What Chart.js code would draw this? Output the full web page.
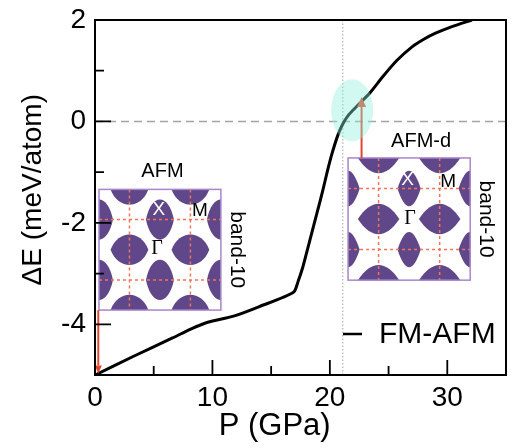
<!DOCTYPE html>
<html>
<head>
<meta charset="utf-8">
<script src="https://cdn.jsdelivr.net/npm/chart.js@4.4.1/dist/chart.umd.min.js"></script>
<style>
  html, body { margin: 0; padding: 0; background: #fff; }
</style>
</head>
<body>
<canvas id="chart" width="518" height="448"></canvas>
<script>
// ---- values ----
const pressure = [0.1, 3.2, 6.6, 8.2, 9.6, 11.8, 14.0, 16.9, 17.3, 17.7, 18.3, 18.9, 19.4, 19.8, 20.2, 20.7, 21.1, 21.6, 22.3, 23.4, 24.5, 25.7, 27.0, 28.0, 29.0, 30.4, 32.1];
const deltaE = [-4.99, -4.64, -4.27, -4.09, -3.96, -3.84, -3.65, -3.37, -3.15, -2.87, -2.34, -1.81, -1.36, -0.97, -0.62, -0.26, -0.05, 0.13, 0.30, 0.56, 0.88, 1.20, 1.47, 1.62, 1.74, 1.87, 2.00];

const seriesLabel = "FM-AFM";
const transitionP = 21.1;          // dotted vertical line
const pRange = [0, 35];
const eRange = [-5, 2];
const pLabelTicks = [0, 10, 20, 30];
const eLabelTicks = [-4, -2, 0, 2];

// insets (corners in data units) and arrows pointing at the curve
const insetNames = ["AFM", "AFM-d"];
const insetP = [[0.34, 10.72], [21.55, 31.95]];
const insetE = [[-1.34, -3.72], [-0.72, -3.13]];
const arrowP = [0.28, 22.7];
const arrowFromE = [-3.72, -0.72];
const arrowToE = [-4.97, 0.48];
const circleP = 21.9, circleE = 0.22;

const FONT = "'Liberation Sans', Arial, sans-serif";
const PURPLE = "#604789";
const RED = "#e2462f";

// lens shapes inside an inset: [ux, uy] in half-inset units
const hLens = [[0.5, 0], [1.5, 0], [0.5, 1], [1.5, 1], [0.5, 2], [1.5, 2]];
const vLens = [[0, 0.5], [0, 1.5], [1, 0.5], [1, 1.5], [2, 0.5], [2, 1.5]];
const lensStyle = [
  { hA: 0.155, hB: 0.125, vA: 0.115, vB: 0.165, k: 0.6 },
  { hA: 0.17, hB: 0.125, vA: 0.095, vB: 0.145, k: 0.35 },
];
const labelOffs = [
  { X: [-1, -10], M: [9.5, -9], G: [-3, -1] },
  { X: [-1.5, -8.5], M: [8.5, -7], G: [1, 0] },
];
const titleOffs = [[2.5, -17.5], [12, -16.5]];

function lens(ctx, cx, cy, a, b, k) {
  ctx.beginPath();
  ctx.moveTo(cx - a, cy);
  ctx.bezierCurveTo(cx - a * k, cy - b * 1.333, cx + a * k, cy - b * 1.333, cx + a, cy);
  ctx.bezierCurveTo(cx + a * k, cy + b * 1.333, cx - a * k, cy + b * 1.333, cx - a, cy);
  ctx.closePath();
  ctx.fill();
}

function drawInset(ctx, xs, ys, i) {
  const x0 = xs.getPixelForValue(insetP[i][0]), x1 = xs.getPixelForValue(insetP[i][1]);
  const y0 = ys.getPixelForValue(insetE[i][0]), y1 = ys.getPixelForValue(insetE[i][1]);
  const w = x1 - x0, h = y1 - y0;
  const st = lensStyle[i];

  ctx.save();
  ctx.beginPath();
  ctx.rect(x0, y0, w, h);
  ctx.fillStyle = "#fff";
  ctx.fill();
  ctx.clip();
  ctx.fillStyle = PURPLE;
  hLens.forEach(([u, v]) => lens(ctx, x0 + u * w / 2, y0 + v * h / 2, st.hA * w, st.hB * w, st.k));
  vLens.forEach(([u, v]) => lens(ctx, x0 + u * w / 2, y0 + v * h / 2, st.vA * w, st.vB * w, st.k));

  // dashed zone lines
  ctx.strokeStyle = "#f2735a";
  ctx.lineWidth = 1.5;
  ctx.setLineDash([3, 3]);
  [0.25, 0.75].forEach((f) => {
    ctx.beginPath();
    ctx.moveTo(x0 + f * w, y0); ctx.lineTo(x0 + f * w, y1);
    ctx.moveTo(x0, y0 + f * h); ctx.lineTo(x1, y0 + f * h);
    ctx.stroke();
  });
  ctx.restore();

  ctx.save();
  ctx.strokeStyle = "#a886cc";
  ctx.lineWidth = 1.5;
  ctx.strokeRect(x0, y0, w, h);

  const cx = x0 + w / 2, cy = y0 + h / 2;
  const lo = labelOffs[i];
  ctx.textAlign = "center";
  ctx.textBaseline = "middle";
  ctx.font = "19px " + FONT;
  ctx.fillStyle = "#fff";
  ctx.fillText("X", cx + lo.X[0], y0 + h / 4 + lo.X[1]);
  ctx.fillStyle = "#000";
  ctx.fillText("M", x0 + 0.75 * w + lo.M[0], y0 + h / 4 + lo.M[1]);
  ctx.font = "20px 'Liberation Serif', 'Times New Roman', serif";
  ctx.fillText("\u0393", cx + lo.G[0], cy + lo.G[1]);

  ctx.font = "20px " + FONT;
  ctx.fillText(insetNames[i], cx + titleOffs[i][0], y0 + titleOffs[i][1]);

  ctx.translate(x1 + 16, cy);
  ctx.rotate(Math.PI / 2);
  ctx.font = "21px " + FONT;
  ctx.fillText("band-10", 0, 0);
  ctx.restore();
}

function arrow(ctx, x, yFrom, yTo, headLen, headW) {
  const dir = yTo > yFrom ? 1 : -1;
  ctx.save();
  ctx.strokeStyle = RED;
  ctx.fillStyle = RED;
  ctx.lineWidth = 2;
  ctx.beginPath();
  ctx.moveTo(x, yFrom);
  ctx.lineTo(x, yTo - dir * headLen);
  ctx.stroke();
  ctx.beginPath();
  ctx.moveTo(x, yTo);
  ctx.lineTo(x - headW, yTo - dir * headLen);
  ctx.lineTo(x + headW, yTo - dir * headLen);
  ctx.closePath();
  ctx.fill();
  ctx.restore();
}

const decor = {
  id: "decor",
  afterDatasetsDraw(chart) {
    const { ctx, chartArea: a, scales } = chart;
    const xs = scales.x, ys = scales.y;

    insetNames.forEach((_, i) => drawInset(ctx, xs, ys, i));

    arrow(ctx, xs.getPixelForValue(arrowP[0]), ys.getPixelForValue(arrowFromE[0]), ys.getPixelForValue(arrowToE[0]), 8, 3.5);
    arrow(ctx, xs.getPixelForValue(arrowP[1]), ys.getPixelForValue(arrowFromE[1]), ys.getPixelForValue(arrowToE[1]), 10, 4.5);

    // highlighted crossing
    ctx.save();
    ctx.fillStyle = "rgba(140, 240, 220, 0.4)";
    ctx.beginPath();
    ctx.ellipse(xs.getPixelForValue(circleP), ys.getPixelForValue(circleE), 21, 31, 0, 0, Math.PI * 2);
    ctx.fill();
    ctx.restore();

    // frame + inward ticks
    ctx.save();
    ctx.strokeStyle = "#000";
    ctx.lineWidth = 2;
    ctx.strokeRect(a.left, a.top, a.right - a.left, a.bottom - a.top);
    ctx.lineWidth = 1.8;
    ctx.beginPath();
    xs.ticks.forEach((t) => {
      const px = xs.getPixelForValue(t.value);
      const len = pLabelTicks.includes(t.value) ? 15 : 9;
      ctx.moveTo(px, a.bottom);
      ctx.lineTo(px, a.bottom - len);
    });
    ys.ticks.forEach((t) => {
      const py = ys.getPixelForValue(t.value);
      const len = eLabelTicks.includes(t.value) ? 16 : 9;
      ctx.moveTo(a.left, py);
      ctx.lineTo(a.left + len, py);
    });
    ctx.stroke();

    // legend entry
    const ly = a.bottom - 41;
    ctx.lineWidth = 2.5;
    ctx.beginPath();
    ctx.moveTo(a.right - 163, ly);
    ctx.lineTo(a.right - 144, ly);
    ctx.stroke();
    ctx.fillStyle = "#000";
    ctx.font = "30px " + FONT;
    ctx.textAlign = "left";
    ctx.textBaseline = "middle";
    ctx.fillText(chart.data.datasets[0].label, a.right - 127, ly + 1);
    ctx.restore();
  },
};

new Chart(document.getElementById("chart"), {
  type: "scatter",
  data: {
    datasets: [
      {
        label: seriesLabel,
        data: pressure.map((p, i) => ({ x: p, y: deltaE[i] })),
        showLine: true,
        borderColor: "#000",
        borderWidth: 3,
        borderJoinStyle: "round",
        pointRadius: 0,
        tension: 0.25,
      },
      {
        label: "zero",
        data: [{ x: pRange[0], y: 0 }, { x: pRange[1], y: 0 }],
        showLine: true,
        borderColor: "#a3a3a3",
        borderWidth: 1.6,
        borderDash: [8, 5],
        pointRadius: 0,
      },
      {
        label: "transition",
        data: [{ x: transitionP, y: eRange[0] }, { x: transitionP, y: eRange[1] }],
        showLine: true,
        borderColor: "#b0b0b0",
        borderWidth: 1.2,
        borderDash: [1.5, 2],
        pointRadius: 0,
      },
    ],
  },
  options: {
    responsive: false,
    animation: false,
    devicePixelRatio: 1,
    layout: { padding: { left: 0, top: 20, right: 12, bottom: 0 } },
    plugins: { legend: { display: false }, tooltip: { enabled: false } },
    scales: {
      x: {
        type: "linear",
        min: pRange[0],
        max: pRange[1],
        afterFit: (s) => { s.height = 73; },
        border: { display: false },
        grid: { display: false, drawTicks: false },
        ticks: {
          stepSize: 5,
          padding: 6,
          color: "#000",
          maxRotation: 0,
          autoSkip: false,
          font: { size: 28, family: FONT },
          callback: (v) => (pLabelTicks.includes(v) ? String(v) : ""),
        },
        title: {
          display: true,
          text: "P (GPa)      ",
          color: "#000",
          font: { size: 31, family: FONT },
          padding: { top: 0, bottom: 3 },
        },
      },
      y: {
        min: eRange[0],
        max: eRange[1],
        afterFit: (s) => { s.width = 95; },
        border: { display: false },
        grid: { display: false, drawTicks: false },
        ticks: {
          stepSize: 1,
          padding: 9,
          color: "#000",
          autoSkip: false,
          font: { size: 28, family: FONT, lineHeight: 0.7 },
          callback: (v) => (eLabelTicks.includes(v) ? String(v) : ""),
        },
        title: {
          display: true,
          text: "  \u0394E (meV/atom)",
          color: "#000",
          font: { size: 28, family: FONT },
          padding: { top: 16, bottom: 0 },
        },
      },
    },
  },
  plugins: [decor],
});
</script>
</body>
</html>
